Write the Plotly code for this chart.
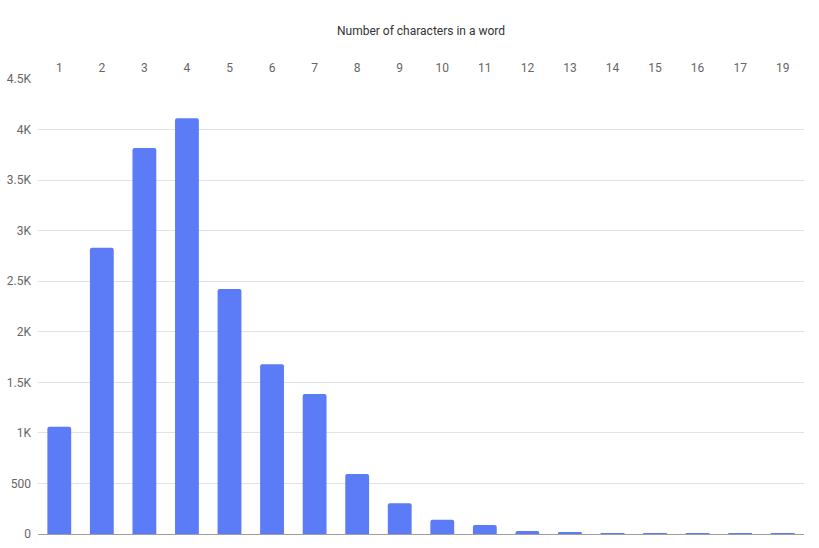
import plotly.graph_objects as go

word_lengths = ["1", "2", "3", "4", "5", "6", "7", "8", "9", "10",
                "11", "12", "13", "14", "15", "16", "17", "19"]
word_counts = [1060, 2830, 3818, 4112, 2423, 1680, 1385, 593, 305, 140,
               88, 30, 10, 5, 2, 1, 1, 1]

y_tickvals = [0, 500, 1000, 1500, 2000, 2500, 3000, 3500, 4000, 4500]
y_ticktext = ["0", "500", "1K", "1.5K", "2K", "2.5K", "3K", "3.5K", "4K", "4.5K"]

fig = go.Figure(
    go.Bar(
        x=word_lengths,
        y=word_counts,
        marker=dict(color="#5b7cf6", line=dict(width=0), cornerradius=2),
        hoverinfo="x+y",
    )
)

fig.update_layout(
    width=819,
    height=548,
    margin=dict(l=38, r=15, t=79, b=14),
    plot_bgcolor="white",
    paper_bgcolor="white",
    font=dict(family="Roboto", size=12, color="#666666"),
    bargap=0.44,
    showlegend=False,
    xaxis=dict(
        type="category",
        side="top",
        automargin=False,
        title=dict(text="Number of characters in a word", font=dict(size=12, color="#333333"), standoff=22),
        showgrid=False,
        ticks="",
        showline=False,
        ticklabelstandoff=4,
        range=[-0.5, 17.5],
    ),
    yaxis=dict(
        range=[0, 4500],
        automargin=False,
        tickvals=y_tickvals,
        ticktext=y_ticktext,
        gridcolor="#e3e3e3",
        gridwidth=1,
        zeroline=True,
        zerolinecolor="#9e9e9e",
        zerolinewidth=1,
        ticks="",
        ticklabelstandoff=6,
    ),
)

# drop the page's default body margin so the figure fills the window
fig.write_html("out.html", config={"displayModeBar": False},
               post_script="document.body.style.margin='0';")
